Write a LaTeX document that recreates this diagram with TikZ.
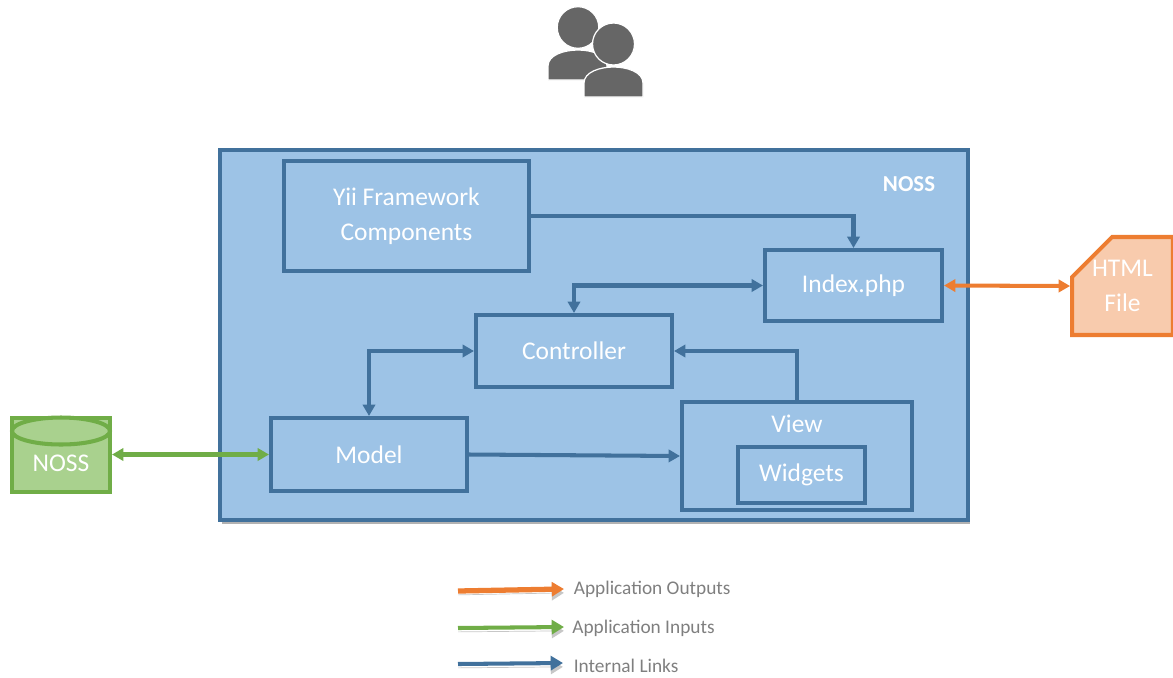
\documentclass[tikz,border=0pt]{standalone}
\usepackage{fontspec}
\setmainfont{Carlito}
\usetikzlibrary{arrows.meta,shapes.geometric,shapes.misc,shadows}
\definecolor{framefill}{HTML}{9DC3E6}
\definecolor{linkblue}{HTML}{41719C}
\definecolor{ingreen}{HTML}{70AD47}
\definecolor{ingreenfill}{HTML}{A9D18E}
\definecolor{outorange}{HTML}{ED7D31}
\definecolor{outorangefill}{HTML}{F8CBAD}
\definecolor{icongray}{HTML}{666666}
\definecolor{legendgray}{HTML}{7F7F7F}
\begin{document}
\begin{tikzpicture}[x=0.02cm,y=0.02cm]
      \tikzstyle{every node}+=[inner sep=0pt]
      \tikzstyle{box}=[draw=linkblue,line width=2.3pt,text=white,align=center,font=\fontsize{14.5}{19.8}\selectfont]
      \tikzstyle{link}=[draw=linkblue,line width=2.3pt,-{Triangle[length=6.5pt,width=7pt]}]
      \tikzstyle{biglink}=[link,{Triangle[length=6.5pt,width=7pt]}-{Triangle[length=6.5pt,width=7pt]}]
      \tikzstyle{inlink}=[biglink,draw=ingreen,fill=ingreen]
      \tikzstyle{outlink}=[biglink,draw=outorange,fill=outorange]
      \tikzstyle{legendlink}=[line width=2.3pt,-{Triangle[length=7pt,width=8pt]},preaction={draw=black!22,transform canvas={yshift=-2.2pt}}]
      \tikzstyle{legendtext}=[anchor=west,text=legendgray,font=\fontsize{11}{13}\selectfont]
      \tikzstyle{person}=[fill=icongray,draw=white,line width=0.7pt]
      \useasboundingbox (0,0) rectangle (1173,-677);
      \draw [person] (578,-27.5) circle (20.8);
      \draw [person] (548,-80) -- (548,-66) .. controls (548,-55) and (564,-50) .. (578,-50) .. controls (592,-50) and (607,-55) .. (607,-66) -- (607,-80) -- cycle;
      \draw [person] (613.5,-44) circle (21);
      \draw [person] (584,-97) -- (584,-83) .. controls (584,-72) and (600,-67) .. (613.5,-67) .. controls (627,-67) and (643,-72) .. (643,-83) -- (643,-97) -- cycle;
      \node [draw=linkblue,fill=framefill,line width=2.6pt,minimum width=14.96cm,minimum height=7.4cm,drop shadow={shadow xshift=1pt,shadow yshift=-2.2pt,fill=black,opacity=0.3}] (noss) at (594,-335) {};
      \node [text=white,font=\fontsize{13}{15}\bfseries\selectfont] (nosslabel) at (909,-184) {NOSS};
      \node [box,minimum width=4.9cm,minimum height=2.2cm] (yii) at (406.5,-216) {Yii Framework\\Components};
      \node [box,minimum width=3.54cm,minimum height=1.42cm] (index) at (853.5,-285.5) {Index.php};
      \node [box,minimum width=3.92cm,minimum height=1.44cm] (controller) at (574,-351) {Controller};
      \node [box,minimum width=3.92cm,minimum height=1.46cm] (model) at (369,-454.5) {Model};
      \node [box,minimum width=4.6cm,minimum height=2.16cm] (view) at (797,-456) {};
      \node [text=white,font=\fontsize{14.5}{17}\selectfont] (viewlabel) at (797,-424) {View};
      \node [box,minimum width=2.54cm,minimum height=1.12cm] (widgets) at (801.5,-475) {Widgets};
      \node [cylinder,shape border rotate=90,aspect=1.9,draw=ingreen,fill=ingreenfill,line width=2.3pt,minimum width=1.96cm,minimum height=1.48cm] (db) at (61,-456) {};
      \node [ellipse,draw=ingreen,fill=ingreenfill,line width=2.3pt,minimum width=1.96cm,minimum height=0.54cm] (dbtop) at (61,-431) {};
      \node [text=white,font=\fontsize{14.5}{17}\selectfont] (dblabel) at (61,-463) {NOSS};
      \node [chamfered rectangle,chamfered rectangle corners=north west,chamfered rectangle xsep=0.4cm,chamfered rectangle ysep=0.4cm,draw=outorange,fill=outorangefill,line width=2.3pt,text=white,align=center,font=\fontsize{14.5}{19.8}\selectfont,minimum width=1.95cm,minimum height=1.96cm] (html) at (1122.5,-286) {HTML\\File};
      \draw [link] (yii.east) -| (index.north);
      \draw [biglink] (index.west) -| (controller.north);
      \draw [biglink] (controller.west) -| (model.north);
      \draw [link] (model.east) -- (view.west);
      \draw [link] (view.north) |- (controller.east);
      \draw [inlink] (db.east |- model.west) -- (model.west);
      \draw [outlink] (index.east) -- (html.west);
      \coordinate (outstart) at (458,-591);
      \coordinate (outend) at (564,-589);
      \coordinate (instart) at (458,-628);
      \coordinate (inend) at (564,-627);
      \coordinate (linkstart) at (458,-664);
      \coordinate (linkend) at (563,-663);
      \draw [legendlink,draw=outorange,fill=outorange,line width=3pt] (outstart) -- (outend);
      \draw [legendlink,draw=ingreen,fill=ingreen] (instart) -- (inend);
      \draw [legendlink,draw=linkblue,fill=linkblue] (linkstart) -- (linkend);
      \node [legendtext] (outtext) at (573.5,-589) {Application Outputs};
      \node [legendtext] (intext) at (572,-628) {Application Inputs};
      \node [legendtext] (linktext) at (573.5,-666) {Internal Links};
\end{tikzpicture}
\end{document}
